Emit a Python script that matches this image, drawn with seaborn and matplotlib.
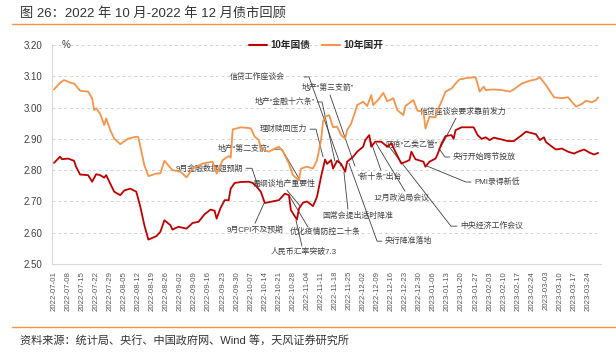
import matplotlib
matplotlib.use("Agg")
import matplotlib.pyplot as plt
import matplotlib.dates as mdates
from matplotlib.lines import Line2D
import numpy as np
import pandas as pd
import seaborn as sns

start = pd.Timestamp("2022-07-01")

# 10年国债, days since 2022-07-01 and yield (%)
gz_days = [0, 3, 4, 7, 10, 11, 13, 17, 19, 21, 23, 25, 26, 28, 30, 33, 35, 38, 41, 43,
           45, 47, 51, 53, 55, 58, 59, 62, 66, 69, 72, 75, 78, 80, 81, 83, 85, 87, 88, 90,
           93, 97, 99, 101, 103, 105, 108, 112, 115, 117, 118, 121, 122, 124, 126, 128, 129, 131, 133, 135,
           136, 138, 139, 141, 143, 145, 146, 149, 151, 154, 155, 157, 158, 160, 163, 166, 168, 170, 173, 177,
           178, 180, 184, 185, 187, 190, 191, 193, 195, 198, 199, 200, 203, 209, 211, 213, 215, 217, 219, 223,
           226, 229, 233, 235, 240, 242, 244, 245, 248, 250, 253, 256, 259, 261, 264, 267, 269, 271]
gz_vals = [2.823, 2.843, 2.835, 2.837, 2.830, 2.811, 2.786, 2.784, 2.763, 2.787, 2.784, 2.776, 2.784, 2.757, 2.731, 2.720, 2.735, 2.741, 2.731, 2.683,
           2.624, 2.578, 2.589, 2.603, 2.640, 2.624, 2.610, 2.619, 2.613, 2.631, 2.635, 2.659, 2.674, 2.670, 2.645, 2.680, 2.704, 2.704, 2.741, 2.759,
           2.762, 2.763, 2.759, 2.747, 2.731, 2.695, 2.699, 2.704, 2.725, 2.720, 2.672, 2.642, 2.677, 2.696, 2.700, 2.690, 2.685, 2.715, 2.779, 2.834,
           2.820, 2.832, 2.805, 2.830, 2.820, 2.795, 2.827, 2.843, 2.859, 2.875, 2.896, 2.912, 2.875, 2.891, 2.891, 2.875, 2.886, 2.859, 2.821, 2.832,
           2.859, 2.835, 2.827, 2.811, 2.827, 2.837, 2.850, 2.885, 2.909, 2.912, 2.900, 2.928, 2.937, 2.937, 2.912, 2.900, 2.905, 2.896, 2.904, 2.898,
           2.893, 2.893, 2.912, 2.923, 2.915, 2.896, 2.905, 2.890, 2.875, 2.866, 2.869, 2.859, 2.853, 2.859, 2.866, 2.855, 2.850, 2.855]

# 10年国开
gk_days = [0, 3, 5, 8, 10, 13, 17, 19, 20, 21, 23, 25, 26, 28, 30, 33, 37, 41, 42, 45,
           47, 51, 53, 55, 59, 63, 66, 69, 74, 79, 81, 84, 87, 88, 89, 93, 98, 100, 102, 103,
           107, 112, 114, 117, 119, 122, 123, 126, 129, 131, 133, 134, 135, 137, 139, 141, 143, 145, 146, 148,
           150, 151, 154, 156, 158, 159, 162, 164, 166, 169, 171, 174, 175, 179, 181, 184, 185, 187, 190, 191,
           193, 195, 198, 200, 202, 206, 210, 212, 214, 215, 219, 223, 227, 229, 233, 237, 240, 242, 245, 249,
           253, 256, 260, 263, 265, 268, 270, 271]
gk_vals = [3.058, 3.079, 3.088, 3.080, 3.077, 3.054, 3.051, 3.030, 2.992, 2.998, 2.980, 2.944, 2.965, 2.928, 2.901, 2.883, 2.901, 2.907, 2.905, 2.816,
           2.781, 2.789, 2.790, 2.830, 2.800, 2.795, 2.777, 2.805, 2.821, 2.827, 2.789, 2.832, 2.845, 2.840, 2.930, 2.937, 2.934, 2.907, 2.896, 2.869,
           2.859, 2.875, 2.860, 2.821, 2.784, 2.768, 2.805, 2.811, 2.805, 2.832, 2.896, 2.955, 2.971, 2.976, 2.937, 2.939, 2.912, 2.901, 2.928, 2.949,
           2.987, 3.008, 3.019, 3.005, 3.040, 3.008, 3.029, 3.047, 3.020, 3.030, 2.992, 2.976, 3.005, 3.024, 2.990, 2.987, 2.933, 2.971, 2.969, 2.992,
           3.019, 3.051, 3.061, 3.077, 3.090, 3.095, 3.097, 3.051, 3.067, 3.056, 3.058, 3.056, 3.051, 3.058, 3.077, 3.086, 3.090, 3.097, 3.072, 3.033,
           3.030, 3.033, 3.003, 3.012, 3.022, 3.017, 3.024, 3.033]

# event notes: text, text position (day, value), alignment, leader line points
notes = [
    ("信贷工作座谈会", 115.0, 3.098, "right", [(124.5, 3.098), (127.0, 3.098), (142.9, 2.813)]),
    ("地产“第三支箭”", 123.5, 3.062, "left", [(137.5, 3.040), (149.9, 2.813)]),
    ("地产“金融十六条”", 130.0, 3.018, "right", [(131.0, 3.018), (133.5, 3.018), (139.9, 2.829)]),
    ("理财赎回压力", 126.0, 2.931, "right", [(127.5, 2.931), (130.5, 2.931), (134.0, 2.842)]),
    ("地产“第二支箭”", 107.6, 2.867, "right", [(109.6, 2.867), (113.5, 2.867), (122.5, 2.768)]),
    ("9月金融数据超预期", 94.1, 2.806, "right", [(95.6, 2.806), (98.6, 2.806), (101.6, 2.749)]),
    ("易纲谈地产重要性", 99.1, 2.755, "left", [(116.0, 2.736), (123.0, 2.682)]),
    ("9月CPI不及预期", 86.2, 2.608, "left", [(100.1, 2.630), (104.6, 2.694)]),
    ("优化疫情防控二十条", 117.5, 2.602, "left", [(126.5, 2.618), (117.0, 2.720)]),
    ("人民币汇率突破7.3", 108.0, 2.538, "left", [(123.5, 2.557), (120.5, 2.640)]),
    ("国常会提出适时降准", 133.5, 2.653, "left", [(146.4, 2.675), (144.4, 2.794)]),
    ("央行降准落地", 164.8, 2.573, "left", [(163.3, 2.573), (160.9, 2.573), (146.9, 2.822)]),
    ("“新十条”出台", 151.4, 2.778, "left", [(162.8, 2.800), (156.9, 2.909)]),
    ("12月政治局会议", 158.9, 2.710, "left", [(174.8, 2.733), (160.4, 2.886)]),
    ("中央经济工作会议", 202.2, 2.621, "left", [(200.7, 2.621), (197.7, 2.621), (166.3, 2.880)]),
    ("PMI录得新低", 209.2, 2.762, "left", [(207.7, 2.762), (205.2, 2.762), (185.8, 2.813)]),
    ("央行开始跨节投放", 198.7, 2.842, "left", [(197.2, 2.842), (194.7, 2.842), (191.7, 2.870)]),
    ("信贷座谈会要求靠前发力", 182.3, 2.986, "left", [(200.2, 2.966), (192.7, 2.874)]),
    ("防疫“乙类乙管”", 164.8, 2.880, "left", []),
]

sns.set_theme(style="white")
plt.rcParams["font.family"] = ["Liberation Sans", "Noto Sans CJK SC", "DejaVu Sans"]
plt.rcParams["axes.unicode_minus"] = False


def to_date(d):
    return start + pd.Timedelta(days=d)


df = pd.concat([
    pd.DataFrame({"date": [to_date(d) for d in gz_days], "value": gz_vals, "series": "10年国债"}),
    pd.DataFrame({"date": [to_date(d) for d in gk_days], "value": gk_vals, "series": "10年国开"}),
], ignore_index=True)

red = "#C00000"
orange = "#F5944A"
grey = "#404040"

fig = plt.figure(figsize=(6.16, 3.57), dpi=100)
ax = fig.add_axes([0.0852, 0.2605, 0.8904, 0.6134])

sns.lineplot(data=df, x="date", y="value", hue="series",
             palette={"10年国债": red, "10年国开": orange},
             linewidth=1.3, estimator=None, ax=ax, zorder=3)

for text, tday, tval, ha, path in notes:
    ax.text(to_date(tday), tval, text, ha=ha, va="center", fontsize=5.7, color=grey, zorder=2)
    if path:
        ax.plot([to_date(d) for d, v in path], [v for d, v in path],
                color=grey, lw=0.6, zorder=2)

ax.set_ylim(2.5, 3.2)
ax.set_yticks(np.arange(2.5, 3.201, 0.1))
ax.yaxis.set_major_formatter(matplotlib.ticker.FormatStrFormatter("%.2f"))
ax.set_xlim(pd.Timestamp("2022-06-30 06:00"), pd.Timestamp("2023-03-30 10:00"))
ax.set_xticks(pd.date_range("2022-07-01", "2023-03-24", freq="7D"))
ax.xaxis.set_major_formatter(mdates.DateFormatter("%Y-%m-%d"))
ax.tick_params(axis="x", labelrotation=90, labelsize=5.6, colors="#595959",
               length=2, width=0.6, color="#D9D9D9", pad=3)
ax.tick_params(axis="y", labelsize=7, colors="#404040", length=0, pad=7)
ax.set_xlabel("")
ax.set_ylabel("")

ax.yaxis.grid(True, linestyle=(0, (3, 3)), color="#D3D3D3", linewidth=0.7)
ax.xaxis.grid(False)
for s in ["top", "right"]:
    ax.spines[s].set_visible(False)
for s in ["left", "bottom"]:
    ax.spines[s].set_color("#D9D9D9")
    ax.spines[s].set_linewidth(0.8)

ax.text(0.017, 1.0, "%", transform=ax.transAxes, ha="left", va="center", fontsize=7, color=grey)

handles = [Line2D([], [], color=red, lw=1.5), Line2D([], [], color=orange, lw=1.5)]
ax.legend(handles, ["10年国债", "10年国开"], loc="center", bbox_to_anchor=(0.48, 1.0),
          ncol=2, frameon=False, fontsize=7, handlelength=1.9, handletextpad=0.3,
          columnspacing=1.2, prop={"size": 7, "weight": "bold"})

fig.text(0.0325, 0.9636, "图 26：2022 年 10 月-2022 年 12 月债市回顾", fontsize=9.5,
         color="#333333", ha="left", va="center")
fig.add_artist(Line2D([0.0195, 1.0], [0.9328, 0.9328], transform=fig.transFigure,
                      color="#F5944A", lw=1.0))
fig.add_artist(Line2D([0.0195, 1.0], [0.084, 0.084], transform=fig.transFigure,
                      color="#F5944A", lw=1.0))
fig.text(0.0325, 0.0448, "资料来源：统计局、央行、中国政府网、Wind 等，天风证券研究所", fontsize=8,
         color="#333333", ha="left", va="center")

fig.savefig("out.png", dpi=100)
